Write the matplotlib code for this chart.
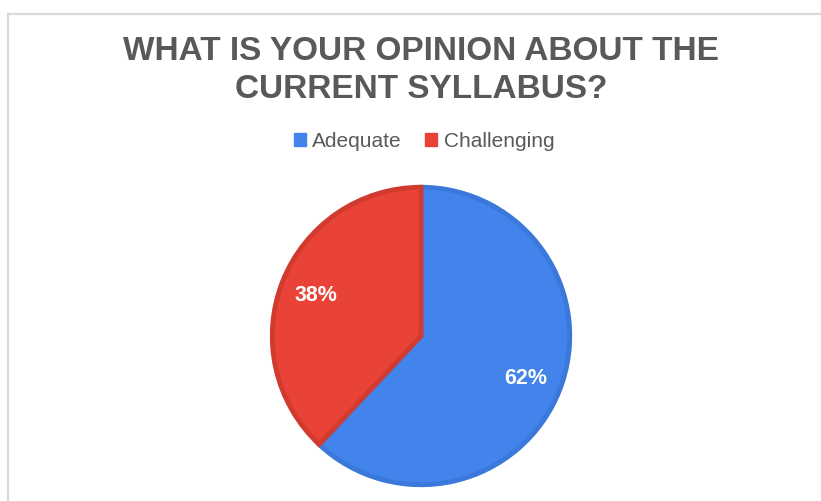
import matplotlib.pyplot as plt
import matplotlib.patches as patches

labels = ['Adequate', 'Challenging']
values = [62, 38]
colors = ['#4283EC', '#E84336']
edge_colors = ['#3A78DA', '#D13B2F']

plt.rcParams['font.family'] = ['Liberation Sans', 'DejaVu Sans']

fig = plt.figure(figsize=(8.21, 5.02), dpi=100)
fig.patch.set_facecolor('white')

# light grey chart border (runs off the right and bottom edges)
border = patches.Rectangle((8/821, -0.1), 1.1, (502-15)/502 + 0.1, transform=fig.transFigure,
	fill=False, edgecolor='#D9D9D9', linewidth=1.6)
fig.patches.append(border)

fig.text(421/821, 1 - 51/502, 'WHAT IS YOUR OPINION ABOUT THE', ha='center', va='center',
	fontsize=24, fontweight='bold', color='#595959')
fig.text(421/821, 1 - 90/502, 'CURRENT SYLLABUS?', ha='center', va='center',
	fontsize=24, fontweight='bold', color='#595959')

# pie center ~ (421, 337), radius ~151 px
cx, cy, r = 421, 337, 151
ax = fig.add_axes([(cx - r)/821, (502 - cy - r)/502, 2*r/821, 2*r/502])
wedges, texts, autotexts = ax.pie(values, colors=colors, startangle=90, counterclock=False,
	autopct='%d%%', pctdistance=0.76, radius=0.985,
	wedgeprops={'linewidth': 3.5, 'edgecolor': 'white'},
	textprops={'color': 'white', 'fontsize': 15.5, 'fontweight': 'bold'})
for w, ec in zip(wedges, edge_colors):
	w.set_edgecolor(ec)
	w.set_joinstyle('miter')
ax.set_xlim(-1, 1)
ax.set_ylim(-1, 1)

handles = [patches.Patch(facecolor=c, edgecolor=c) for c in colors]
fig.legend(handles, labels, loc='center', bbox_to_anchor=(424/821, 1 - 142/502), ncol=2,
	frameon=False, fontsize=15, handlelength=0.6, handleheight=0.6, handletextpad=0.3,
	columnspacing=1.1, labelcolor='#595959')

fig.savefig('out.png', dpi=100)
